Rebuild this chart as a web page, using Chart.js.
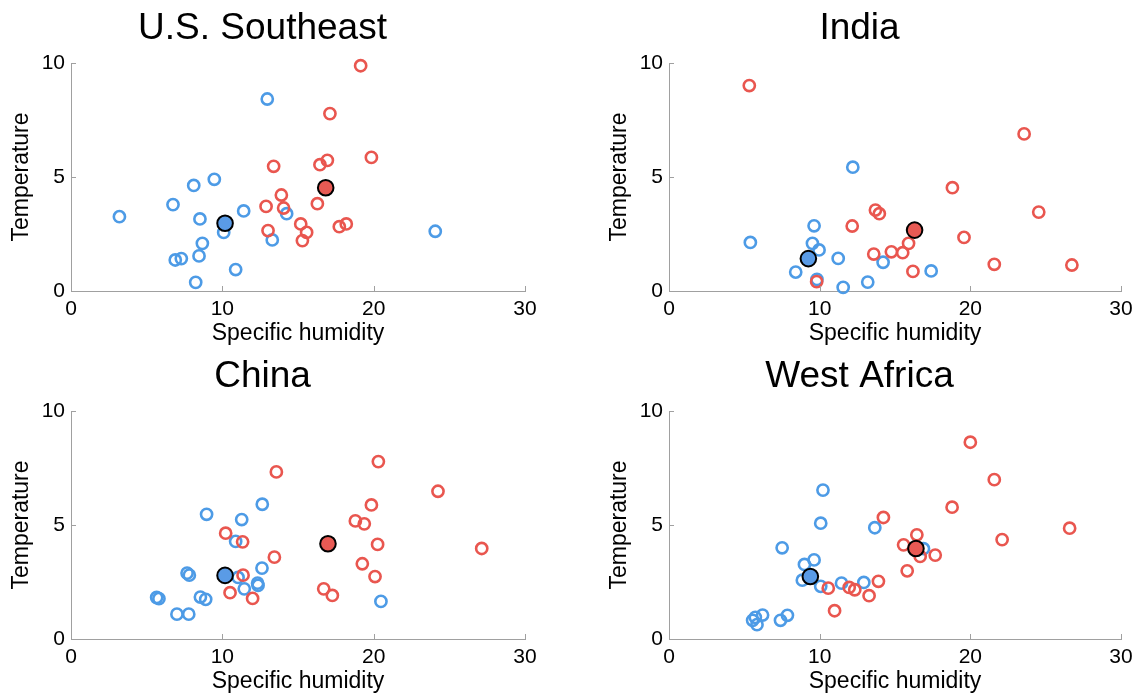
<!DOCTYPE html>
<html>
<head>
<meta charset="utf-8">
<script src="https://cdn.jsdelivr.net/npm/chart.js@4"></script>
<style>
  body { margin:0; background:#fff; width:1143px; height:695px; position:relative; overflow:hidden; }
  .panel { position:absolute; }
</style>
</head>
<body>
<div class="panel" style="left:0;top:0"><canvas id="c0" width="560" height="347"></canvas></div>
<div class="panel" style="left:598px;top:0"><canvas id="c1" width="545" height="347"></canvas></div>
<div class="panel" style="left:0;top:348px"><canvas id="c2" width="560" height="347"></canvas></div>
<div class="panel" style="left:598px;top:348px"><canvas id="c3" width="545" height="347"></canvas></div>
<script>
// region titles
const regions = ["U.S. Southeast", "India", "China", "West Africa"];
const xTicks = [0, 10, 20, 30];
const yTicks = [0, 5, 10];

// U.S. Southeast
const seBlueX = [3.2,12.97,9.47,8.11,6.74,8.52,11.41,14.25,10.09,8.68,8.46,6.89,7.29,13.3,10.88,8.24,24.07];
const seBlueY = [3.26,8.42,4.9,4.63,3.79,3.16,3.51,3.39,2.57,2.09,1.54,1.36,1.42,2.24,0.94,0.38,2.62];
const seRedX = [19.14,17.11,19.85,13.39,16.45,16.94,13.9,12.89,14.05,16.28,15.18,15.57,15.29,13.02,17.73,18.19];
const seRedY = [9.88,7.78,5.86,5.47,5.54,5.73,4.21,3.71,3.64,3.83,2.94,2.57,2.21,2.65,2.82,2.94];
const seMeanBlue = [10.18, 2.97];
const seMeanRed = [16.83, 4.53];

// India
const inBlueX = [12.2,9.63,5.4,9.52,9.96,11.23,8.41,14.21,17.4,13.19,11.56,9.82];
const inBlueY = [5.43,2.86,2.13,2.09,1.8,1.43,0.83,1.26,0.88,0.39,0.16,0.51];
const inRedX = [5.33,23.57,18.81,24.54,13.7,13.96,12.16,19.58,15.9,15.51,14.76,13.59,16.19,21.59,26.74,9.8];
const inRedY = [9.01,6.89,4.53,3.46,3.55,3.39,2.85,2.35,2.09,1.68,1.72,1.62,0.86,1.17,1.14,0.41];
const inMeanBlue = [9.25, 1.42];
const inMeanRed = [16.3, 2.67];

// China
const cnBlueX = [8.96,11.28,12.64,10.88,12.62,7.67,7.82,11.04,11.45,12.33,12.36,5.66,5.81,8.55,8.9,7.0,7.78,20.48];
const cnBlueY = [5.47,5.24,5.91,4.28,3.11,2.89,2.8,2.7,2.2,2.45,2.35,1.82,1.77,1.84,1.74,1.09,1.09,1.65];
const cnRedX = [13.57,20.31,24.25,19.85,18.79,19.38,10.22,11.34,20.26,27.14,13.44,19.25,11.37,20.09,16.7,17.27,10.51,12.0];
const cnRedY = [7.33,7.78,6.48,5.88,5.18,5.05,4.64,4.26,4.15,3.97,3.59,3.3,2.8,2.74,2.2,1.91,2.03,1.78];
const cnMeanBlue = [10.18, 2.79];
const cnMeanRed = [16.98, 4.18];

// West Africa
const waBlueX = [10.22,10.07,13.66,7.51,9.63,8.99,8.85,10.07,11.45,12.93,16.89,6.21,5.73,5.55,5.84,7.4,7.86];
const waBlueY = [6.53,5.08,4.88,4.0,3.47,3.27,2.58,2.31,2.45,2.48,3.96,1.05,0.95,0.82,0.63,0.82,1.04];
const waRedX = [20.0,21.59,18.79,14.23,26.59,22.11,16.45,15.57,16.67,17.67,15.81,13.9,10.57,11.96,12.33,13.28,10.99];
const waRedY = [8.63,6.99,5.78,5.33,4.86,4.36,4.57,4.13,3.62,3.68,2.99,2.53,2.23,2.26,2.16,1.9,1.24];
const waMeanBlue = [9.38, 2.74];
const waMeanRed = [16.39, 3.97];

const panels = [
  [seBlueX, seBlueY, seRedX, seRedY, seMeanBlue, seMeanRed],
  [inBlueX, inBlueY, inRedX, inRedY, inMeanBlue, inMeanRed],
  [cnBlueX, cnBlueY, cnRedX, cnRedY, cnMeanBlue, cnMeanRed],
  [waBlueX, waBlueY, waRedX, waRedY, waMeanBlue, waMeanRed]
];

const BLUE = "#4d9be6", RED = "#e9564f";
const FONT = "'Liberation Sans', Arial, sans-serif";
Chart.defaults.font.family = FONT;
Chart.defaults.color = "#000";

const pts = (xs, ys) => xs.map((x, i) => ({x: x, y: ys[i]}));

// MATLAB-like tick marks drawn inward
const inTicks = {
  id: "inTicks",
  afterDraw(chart) {
    const c = chart.ctx, xs = chart.scales.x, ys = chart.scales.y;
    c.save();
    c.strokeStyle = "#a0a0a0";
    c.lineWidth = 1;
    c.beginPath();
    xs.ticks.forEach(t => {
      const px = Math.round(xs.getPixelForValue(t.value)) + 0.5;
      c.moveTo(px, ys.bottom); c.lineTo(px, ys.bottom - 5);
    });
    ys.ticks.forEach(t => {
      const py = Math.round(ys.getPixelForValue(t.value)) + 0.5;
      c.moveTo(xs.left, py); c.lineTo(xs.left + 5, py);
    });
    c.stroke();
    c.restore();
  }
};

panels.forEach((p, i) => {
  const [bx, by, rx, ry, mb, mr] = p;
  new Chart(document.getElementById("c" + i), {
    type: "scatter",
    data: {
      datasets: [
        { data: [{x: mr[0], y: mr[1]}], clip: false, pointRadius: 7.8, pointBackgroundColor: "#e85a54", pointBorderColor: "#000", pointBorderWidth: 2 },
        { data: [{x: mb[0], y: mb[1]}], clip: false, pointRadius: 7.8, pointBackgroundColor: "#5a9be6", pointBorderColor: "#000", pointBorderWidth: 2 },
        { data: pts(rx, ry), clip: false, pointRadius: 5.6, pointBackgroundColor: "rgba(0,0,0,0)", pointBorderColor: RED, pointBorderWidth: 2.6 },
        { data: pts(bx, by), clip: false, pointRadius: 5.6, pointBackgroundColor: "rgba(0,0,0,0)", pointBorderColor: BLUE, pointBorderWidth: 2.6 }
      ]
    },
    options: {
      responsive: false,
      animation: false,
      layout: { padding: { left: 0, right: i % 2 ? 22 : 35, top: 0, bottom: 0 } },
      plugins: {
        legend: { display: false },
        tooltip: { enabled: false },
        title: {
          display: true, text: regions[i], color: "#000",
          font: { size: 37, weight: "normal", lineHeight: 1.2 },
          padding: { top: 7, bottom: 11.6 }
        }
      },
      scales: {
        x: {
          type: "linear", min: 0, max: 30,
          afterBuildTicks: s => { s.ticks = xTicks.map(v => ({value: v})); },
          afterFit: s => { s.height = 56; },
          ticks: { font: { size: 21 }, padding: 6, maxRotation: 0 },
          grid: { drawOnChartArea: false, drawTicks: false },
          border: { color: "#a0a0a0", width: 1 },
          title: { display: true, text: "Specific humidity", font: { size: 23 }, padding: { top: 0, bottom: 0 } }
        },
        y: {
          type: "linear", min: 0, max: 10,
          afterBuildTicks: s => { s.ticks = yTicks.map(v => ({value: v})); },
          afterFit: s => { s.width = 71; },
          ticks: { font: { size: 21 }, padding: 6 },
          grid: { drawOnChartArea: false, drawTicks: false },
          border: { color: "#a0a0a0", width: 1 },
          title: { display: true, text: "Temperature", font: { size: 23 }, padding: { top: 8, bottom: 0 } }
        }
      }
    },
    plugins: [inTicks]
  });
});
</script>
</body>
</html>
